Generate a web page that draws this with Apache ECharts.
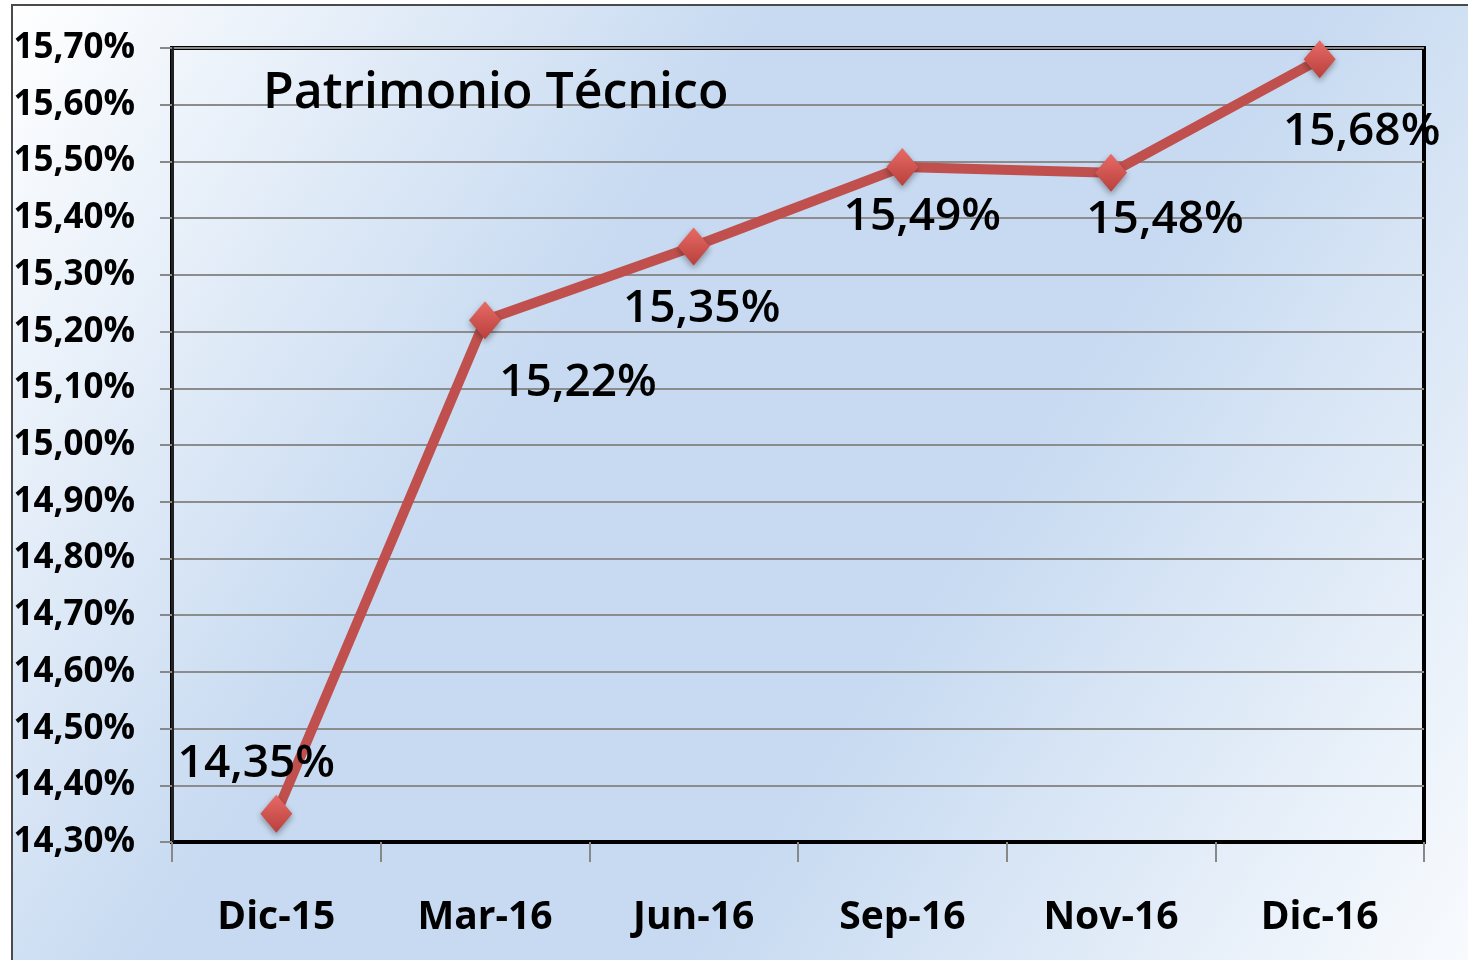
<!DOCTYPE html>
<html>
<head>
<meta charset="utf-8">
<script src="https://cdn.jsdelivr.net/npm/echarts@6/dist/echarts.min.js"></script>
<style>
html,body{margin:0;padding:0;background:#fff;}
#c{width:1468px;height:960px;}
</style>
</head>
<body>
<div id="c"></div>
<script>
var categories = ['Dic-15', 'Mar-16', 'Jun-16', 'Sep-16', 'Nov-16', 'Dic-16'];
var values = [14.35, 15.22, 15.35, 15.49, 15.48, 15.68];
var yMin = 14.30, yMax = 15.70, yStep = 0.10;
var titleText = 'Patrimonio Técnico';

var FONT = "'Open Sans', sans-serif";
function pct(v) { return v.toFixed(2).replace('.', ',') + '%'; }

var labelOffsets = [[-20, -50], [93, 63], [8, 62], [20, 50], [54, 47], [42, 73]];

var seriesData = values.map(function (v, i) {
  return {
    value: v,
    label: { offset: labelOffsets[i] }
  };
});

var chart = echarts.init(document.getElementById('c'), null, { renderer: 'canvas' });
chart.setOption({
  animation: false,
  graphic: [{
    type: 'rect',
    z: -10,
    shape: { x: 12, y: 5, width: 1470, height: 970 },
    style: {
      fill: new echarts.graphic.LinearGradient(0, 0, 1, 1, [
        { offset: 0, color: '#FFFFFF' },
        { offset: 0.36, color: '#C7DAF1' },
        { offset: 0.62, color: '#C7DAF1' },
        { offset: 1, color: '#FAFCFE' }
      ]),
      stroke: '#4A4A4A',
      lineWidth: 2
    },
    silent: true
  }],
  title: {
    text: titleText,
    left: 258,
    top: 64,
    textStyle: { fontFamily: FONT, fontSize: 50, fontWeight: 600, color: '#000' }
  },
  grid: {
    left: 172, top: 48, right: 44, bottom: 118,
    outerBoundsMode: 'none',
    containLabel: false,
    show: true, borderColor: '#000', borderWidth: 4, backgroundColor: 'transparent'
  },
  xAxis: {
    type: 'category',
    data: categories,
    boundaryGap: true,
    axisLine: { show: true, lineStyle: { color: '#000', width: 3 } },
    axisTick: { show: true, length: 20, alignWithLabel: false, lineStyle: { color: '#888', width: 2 } },
    axisLabel: { margin: 56, fontFamily: FONT, fontSize: 39, fontWeight: 'bold', color: '#000' },
    splitLine: { show: false }
  },
  yAxis: {
    type: 'value',
    min: yMin, max: yMax, interval: yStep,
    axisLine: { show: true, lineStyle: { color: '#222', width: 3 } },
    axisTick: { show: true, length: 12, lineStyle: { color: '#888', width: 2 } },
    axisLabel: { margin: 37, fontFamily: FONT, fontSize: 35, fontWeight: 'bold', color: '#000', formatter: pct },
    splitLine: { show: true, lineStyle: { color: '#8C8C8C', width: 2 } }
  },
  series: [{
    type: 'line',
    data: seriesData,
    lineStyle: { color: '#C0504D', width: 10 },
    symbol: 'diamond',
    symbolSize: [32, 38],
    itemStyle: {
      color: new echarts.graphic.LinearGradient(0, 0, 0, 1, [
        { offset: 0, color: '#E86A66' },
        { offset: 1, color: '#B8403C' }
      ]),
      borderWidth: 0,
      shadowColor: 'rgba(0,0,0,0.35)',
      shadowBlur: 6,
      shadowOffsetY: 3
    },
    label: {
      show: true,
      position: 'inside',
      formatter: function (p) { return pct(p.value); },
      fontFamily: FONT,
      fontSize: 46,
      fontWeight: 600,
      color: '#000'
    },
    z: 5
  }]
});
</script>
</body>
</html>
